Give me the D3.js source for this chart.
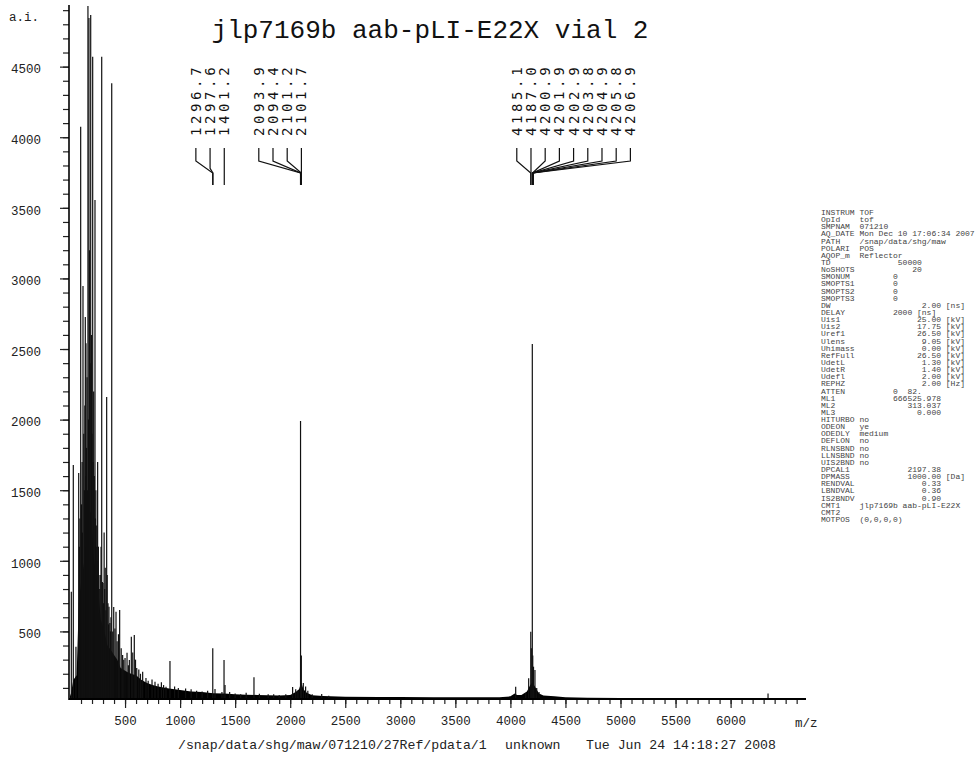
<!DOCTYPE html>
<html>
<head>
<meta charset="utf-8">
<script src="https://cdn.jsdelivr.net/npm/d3@7/dist/d3.min.js"></script>
<style>
  body { margin: 0; background: #fff; }
  svg text { font-family: "Liberation Mono", "DejaVu Sans Mono", monospace; }
</style>
</head>
<body>
<div id="chart"></div>
<script>
// noise floor envelope (m/z, intensity)
const envMz = [0, 10, 30, 60, 80, 100, 130, 160, 190, 220, 250, 280, 310, 340, 370, 400, 430, 460, 490, 520, 560, 600, 650, 700, 750, 800, 900, 1000, 1100, 1200, 1300, 1400, 1500, 1600, 1700, 1800, 1900, 2000, 2050, 2080, 2100, 2120, 2150, 2200, 2300, 2500, 2800, 3000, 3300, 3600, 3900, 4000, 4040, 4060, 4100, 4150, 4180, 4200, 4230, 4260, 4300, 4400, 4500, 4700, 5000, 5500, 6000, 6300, 6500, 6650];
const envInt = [40, 64, 156, 190, 700, 850, 1000, 1300, 1350, 1000, 860, 580, 510, 400, 370, 333, 300, 240, 227, 212, 198, 190, 156, 135, 120, 110, 95, 85, 75, 70, 62, 60, 55, 52, 50, 48, 46, 50, 70, 90, 140, 90, 65, 48, 42, 38, 36, 35, 34, 33, 34, 40, 60, 50, 50, 75, 120, 140, 100, 60, 46, 40, 34, 30, 28, 27, 26, 26, 25, 25];

// individual peaks
const peakMz = [12, 30, 54, 79, 85, 90, 97, 105, 110, 113, 118, 125, 131, 135, 139, 143, 145, 150, 155, 158, 163, 168, 172, 178, 183, 188, 195, 200, 206, 210, 215, 221, 227, 231, 235, 239, 243, 247, 251, 258, 262, 266, 270, 275, 282, 288, 294, 300, 305, 310, 315, 320, 326, 333, 338, 345, 350, 354, 362, 367, 372, 379, 388, 397, 408, 418, 428, 440, 451, 465, 478, 488, 500, 518, 530, 539, 557, 570, 584, 595, 606, 625, 640, 654, 660, 690, 710, 745, 772, 800, 830, 850, 872, 908, 950, 984, 1050, 1100, 1150, 1200, 1250, 1296.7, 1317, 1380, 1399, 1408, 1450, 1500, 1550, 1600, 1671, 1720, 1800, 1850, 1900, 1960, 2022, 2050, 2070, 2093.9, 2101.2, 2119, 2140, 2160, 2200, 2286, 2350, 4048, 4139, 4166, 4185.1, 4190, 4199, 4203, 4210, 4223, 4239, 4260, 6340];
const peakInt = [781, 1678, 392, 1622, 1100, 1300, 4074, 1400, 1700, 1200, 2946, 1900, 1500, 2100, 2726, 1600, 2540, 1800, 2300, 1500, 4929, 2000, 4844, 3200, 2400, 4865, 2600, 1900, 4570, 1700, 2200, 1600, 3555, 1300, 1500, 1100, 1250, 1000, 1700, 1100, 900, 630, 800, 900, 1100, 4570, 850, 843, 700, 1200, 800, 950, 650, 2160, 900, 700, 550, 675, 560, 500, 600, 4382, 500, 673, 520, 640, 430, 480, 652, 380, 333, 300, 312, 349, 260, 297, 462, 350, 474, 300, 241, 230, 200, 156, 215, 170, 150, 160, 144, 130, 140, 120, 108, 290, 110, 100, 95, 90, 80, 75, 80, 380, 92, 70, 297, 120, 70, 60, 55, 65, 175, 58, 55, 55, 50, 55, 106, 90, 80, 1990, 330, 135, 110, 80, 55, 57, 45, 108, 64, 168, 498, 380, 2535, 330, 250, 227, 99, 70, 60];

// annotated peak groups
const labelGroups = [
  [1296.7, 1297.6, 1401.2],
  [2093.9, 2094.4, 2101.2, 2101.7],
  [4185.1, 4187.0, 4200.9, 4201.9, 4202.9, 4203.8, 4204.9, 4205.8, 4206.9]
];
const labelAnchor = [2, 3, 1];

const yMajor = [500, 1000, 1500, 2000, 2500, 3000, 3500, 4000, 4500];
const xMajor = [500, 1000, 1500, 2000, 2500, 3000, 3500, 4000, 4500, 5000, 5500, 6000];

const title = "jlp7169b aab-pLI-E22X vial 2";
const footPath = "/snap/data/shg/maw/071210/27Ref/pdata/1";
const footSample = "unknown";
const footDate = "Tue Jun 24 14:18:27 2008";

const params = [
  "INSTRUM TOF",
  "OpId    tof",
  "SMPNAM  071210",
  "AQ_DATE Mon Dec 10 17:06:34 2007",
  "PATH    /snap/data/shg/maw",
  "POLARI  POS",
  "AQOP_m  Reflector",
  "TD              50000",
  "NoSHOTS            20",
  "SMONUM         0",
  "SMOPTS1        0",
  "SMOPTS2        0",
  "SMOPTS3        0",
  "DW                   2.00 [ns]",
  "DELAY          2000 [ns]",
  "Uis1                25.00 [kV]",
  "Uis2                17.75 [kV]",
  "Uref1               26.50 [kV]",
  "Ulens                9.05 [kV]",
  "Uhimass              0.00 [kV]",
  "RefFull             26.50 [kV]",
  "UdetL                1.30 [kV]",
  "UdetR                1.40 [kV]",
  "Udefl                2.00 [kV]",
  "REPHZ                2.00 [Hz]",
  "ATTEN          0  82.",
  "ML1            666525.978",
  "ML2               313.037",
  "ML3                 0.000",
  "HITURBO no",
  "ODEON   ye",
  "ODEDLY  medium",
  "DEFLON  no",
  "RLNSBND no",
  "LLNSBND no",
  "UIS2BND no",
  "DPCAL1            2197.38",
  "DPMASS            1000.00 [Da]",
  "RENDVAL              0.33",
  "LBNDVAL              0.36",
  "IS2BNDV              0.90",
  "CMT1    jlp7169b aab-pLI-E22X",
  "CMT2",
  "MOTPOS  (0,0,0,0)"
];

const W = 979, H = 757;
const svg = d3.select("#chart").append("svg")
  .attr("width", W).attr("height", H)
  .style("background", "#fff");

const x = d3.scaleLinear().domain([0, 6000]).range([70, 730.6]);
const y = d3.scaleLinear().domain([0, 4950]).range([702, 3.1]);
const base = 699;

// noise floor
const env = envMz.map((m, i) => ({ m, v: envInt[i] }));
svg.append("path")
  .datum(env)
  .attr("fill", "#000")
  .attr("d", d3.area().x(d => x(d.m)).y0(base).y1(d => y(d.v)));

// sticks
svg.append("g")
  .attr("stroke", "#111")
  .attr("stroke-width", 1.2)
  .selectAll("line")
  .data(peakMz.map((m, i) => ({ m, v: peakInt[i] })))
  .join("line")
  .attr("x1", d => x(d.m)).attr("x2", d => x(d.m))
  .attr("y1", base).attr("y2", d => y(d.v));

// y axis
const yMinor = d3.range(100, 5000, 100);
svg.append("g")
  .attr("transform", "translate(69,0)")
  .call(d3.axisLeft(y).tickValues(yMinor).tickSize(6).tickFormat(""))
  .call(g => g.select(".domain").remove());
const yAx = svg.append("g")
  .attr("transform", "translate(69,0)")
  .call(d3.axisLeft(y).tickValues(yMajor).tickSize(9).tickPadding(19).tickFormat(d3.format("d")))
  .call(g => g.select(".domain").remove());
yAx.selectAll("text").attr("font-size", 12.5).attr("fill", "#222").attr("dy", "0.5em")
  .style("font-family", "Liberation Mono, monospace");
svg.selectAll(".tick line").attr("stroke", "#222").attr("stroke-width", 1.2);
svg.append("line").attr("x1", 69).attr("x2", 69).attr("y1", 5).attr("y2", 700)
  .attr("stroke", "#000").attr("stroke-width", 1.6);

// x axis
const xMinor = d3.range(100, 6700, 100);
svg.append("g")
  .attr("transform", `translate(0,${base})`)
  .call(d3.axisBottom(x).tickValues(xMinor).tickSize(5).tickFormat(""))
  .call(g => g.select(".domain").remove());
const xAx = svg.append("g")
  .attr("transform", `translate(0,${base})`)
  .call(d3.axisBottom(x).tickValues(xMajor).tickSize(9).tickPadding(8).tickFormat(d3.format("d")))
  .call(g => g.select(".domain").remove());
xAx.selectAll("text").attr("font-size", 12.5).attr("fill", "#222")
  .style("font-family", "Liberation Mono, monospace");
svg.selectAll(".tick line").attr("stroke", "#222").attr("stroke-width", 1.2);
svg.append("line").attr("x1", 69).attr("x2", 806).attr("y1", base).attr("y2", base)
  .attr("stroke", "#000").attr("stroke-width", 2);

svg.append("text").attr("x", 795).attr("y", 727).attr("font-size", 12.5).attr("fill", "#222").text("m/z");
svg.append("text").attr("x", 9).attr("y", 21).attr("font-size", 12.5).attr("fill", "#222").text("a.i.");

// title
svg.append("text").attr("x", 430).attr("y", 38).attr("text-anchor", "middle")
  .attr("font-size", 26).attr("fill", "#111").text(title);

// footer
const foot = svg.append("g").attr("font-size", 13.2).attr("fill", "#222");
foot.append("text").attr("x", 178).attr("y", 749).text(footPath);
foot.append("text").attr("x", 505).attr("y", 749).text(footSample);
foot.append("text").attr("x", 586).attr("y", 749).text(footDate);

// peak labels with leader lines
const lab = svg.append("g");
labelGroups.forEach((grp, gi) => {
  const k = labelAnchor[gi];
  const ax = x(grp[k]);
  grp.forEach((m, i) => {
    const lx = ax + (i - k) * 14.2;
    const px = x(m);
    const dx = Math.abs(px - lx);
    const knee = 173 - Math.min(12, dx * 1.7);
    lab.append("path")
      .attr("fill", "none").attr("stroke", "#111").attr("stroke-width", 1.2)
      .attr("d", `M${lx},148L${lx},${knee}L${px},173L${px},185`);
    lab.append("text")
      .attr("transform", `translate(${lx},136) rotate(-90)`)
      .attr("dy", "0.36em")
      .attr("font-size", 14)
      .attr("letter-spacing", 3.6)
      .style("font-family", "DejaVu Sans Mono, monospace")
      .attr("fill", "#111")
      .text(m.toFixed(1));
  });
});

// acquisition parameters
const pg = svg.append("g").attr("font-size", 8).attr("fill", "#444");
pg.selectAll("text")
  .data(params)
  .join("text")
  .attr("x", 821)
  .attr("y", (d, i) => 215 + i * 7.14)
  .style("white-space", "pre")
  .text(d => d);
</script>
</body>
</html>
